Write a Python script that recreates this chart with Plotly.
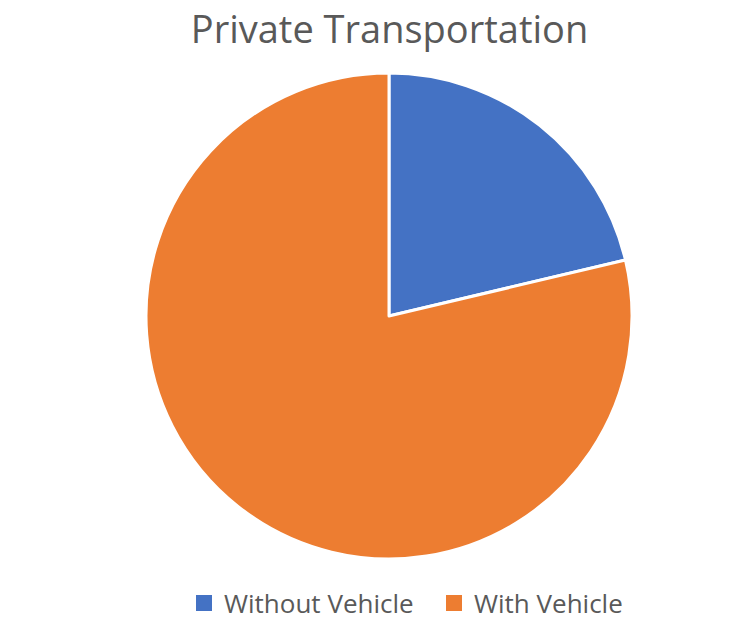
import plotly.graph_objects as go

labels = ["Without Vehicle", "With Vehicle"]
values = [21.3, 78.7]
colors = ["#4472C4", "#ED7D31"]

W, H = 730, 627
OFF = 8  # page body margin

def px_x(x):
    return (x - OFF) / W

def px_y(y):
    return 1 - (y - OFF) / H

fig = go.Figure(go.Pie(
    labels=labels, values=values, sort=False, direction="clockwise", rotation=0,
    marker=dict(colors=colors, line=dict(color="white", width=3)),
    textinfo="none", hoverinfo="label+percent", showlegend=False,
    domain=dict(x=[px_x(138), px_x(640)], y=[px_y(559), px_y(73)]),
))
# legend entries (same labels/colours as the pie slices)
for lab, col in zip(labels, colors):
    fig.add_trace(go.Scatter(x=[None], y=[None], mode="markers", name=lab,
                             marker=dict(symbol="square", size=16, color=col),
                             hoverinfo="skip"))

fig.update_layout(
    width=W, height=H,
    margin=dict(l=0, r=0, t=0, b=0),
    paper_bgcolor="white", plot_bgcolor="rgba(0,0,0,0)",
    xaxis=dict(visible=False), yaxis=dict(visible=False),
    title=dict(text="Private Transportation", x=px_x(389.5), xanchor="center",
               y=px_y(30), yanchor="middle",
               font=dict(family="Open Sans", size=38, color="#595959")),
    legend=dict(orientation="h", x=px_x(196) - 12 / W, xanchor="left", y=px_y(603), yanchor="middle",
                font=dict(family="Open Sans", size=26, color="#595959"),
                itemwidth=30, entrywidth=205, entrywidthmode="pixels", traceorder="normal"),
)
fig.write_html("out.html")
